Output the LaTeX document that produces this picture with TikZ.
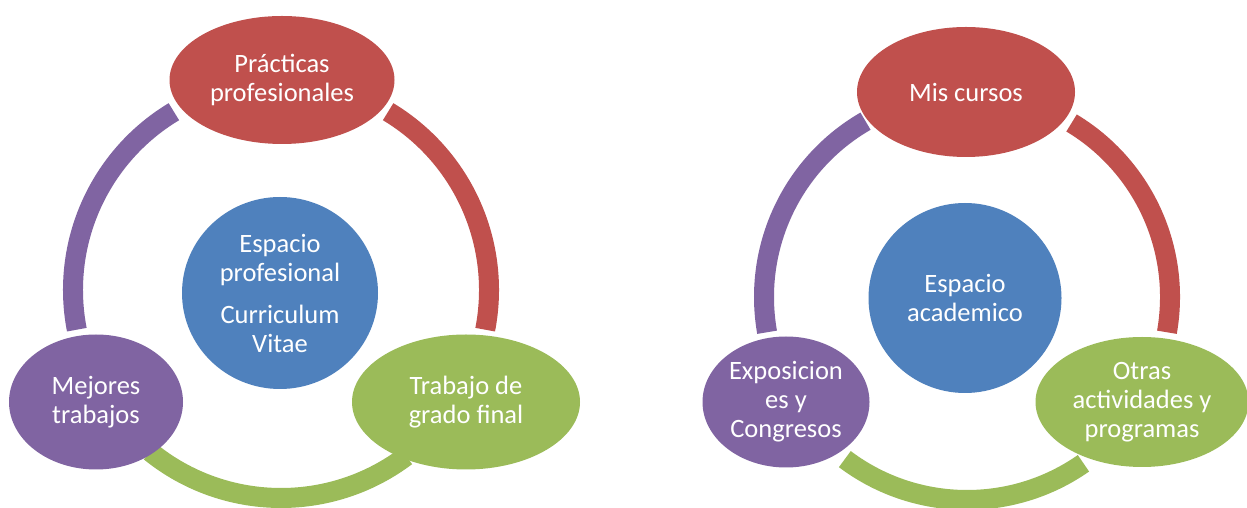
\documentclass[tikz,border=0pt]{standalone}
\usepackage{fontspec}
\setmainfont{Carlito}
\usetikzlibrary{shapes.geometric}
\definecolor{cred}{HTML}{C0504D}
\definecolor{cblue}{HTML}{4F81BD}
\definecolor{cgreen}{HTML}{9BBB59}
\definecolor{cpurple}{HTML}{8064A2}
\begin{document}
\begin{tikzpicture}[x=1pt,y=1pt,
  blob/.style={ellipse, inner sep=0pt, text=white, align=center,
    font=\fontsize{26.5}{29}\selectfont},
  ring/.style={line width=20pt, line cap=butt}]
\useasboundingbox (0,0) rectangle (1247,508);
\fill[white] (0,0) rectangle (1247,508);
% ---------- left cycle ----------
\coordinate (cL) at (281,218);
\draw[ring, cpurple] (cL) ++(121:208pt) arc[start angle=121, end angle=191, radius=208pt];
\draw[ring, cred] (cL) ++(59:208pt) arc[start angle=59, end angle=-11, radius=208pt];
\draw[ring, cgreen] (cL) ++(231:208pt) arc[start angle=231, end angle=307, radius=208pt];
\node[blob, fill=cred, minimum width=225pt, minimum height=128pt] (pp) at (282,428) {Prácticas\\profesionales};
\node[blob, fill=cblue, minimum width=196pt, minimum height=192pt] (ep) at (280,215) {Espacio\\profesional\\[13pt]Curriculum\\Vitae};
\node[blob, fill=cpurple, minimum width=174pt, minimum height=135pt] (mt) at (96,106) {Mejores\\trabajos};
\node[blob, fill=cgreen, minimum width=228pt, minimum height=135pt] (tg) at (466,106) {Trabajo de\\grado final};
% ---------- right cycle ----------
\coordinate (cR) at (967,211);
\draw[ring, cpurple] (cR) ++(120:203pt) arc[start angle=120, end angle=190, radius=203pt];
\draw[ring, cred] (cR) ++(59:203pt) arc[start angle=59, end angle=-10, radius=203pt];
\draw[ring, cgreen] (cR) ++(233:203pt) arc[start angle=233, end angle=305, radius=203pt];
\node[blob, fill=cred, minimum width=218pt, minimum height=130pt] (mc) at (966,416) {Mis cursos};
\node[blob, fill=cblue, minimum width=193pt, minimum height=190pt] (ea) at (965,210) {Espacio\\academico};
\node[blob, fill=cpurple, minimum width=167pt, minimum height=131pt] (ec) at (786,106) {Exposicion\\es y\\Congresos};
\node[blob, fill=cgreen, minimum width=213pt, minimum height=130pt] (oa) at (1142,106) {Otras\\actividades y\\programas};
\end{tikzpicture}
\end{document}
